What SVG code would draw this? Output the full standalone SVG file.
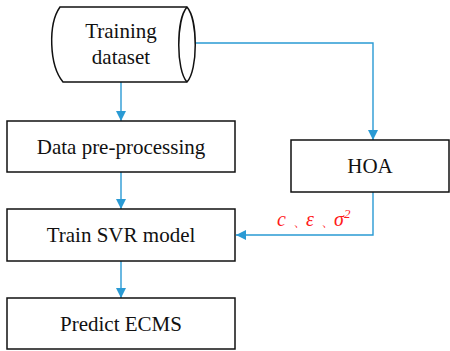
<svg xmlns="http://www.w3.org/2000/svg" width="450" height="351" viewBox="0 0 450 351">
  <style>
    .box { fill: #ffffff; stroke: #111111; stroke-width: 1.5; }
    .lbl { font-family: "Liberation Serif", "DejaVu Serif", serif; font-size: 21px; fill: #111111; text-anchor: middle; }
    .flow { fill: none; stroke: #2a9ad4; stroke-width: 1.4; }
    .param { font-family: "Liberation Serif", "DejaVu Serif", serif; font-size: 20px; fill: #ff1a1a; font-style: italic; }
  </style>
  <defs>
    <marker id="arrow" viewBox="0 0 10 10" refX="10" refY="5" markerWidth="10" markerHeight="10" markerUnits="userSpaceOnUse" orient="auto">
      <path d="M0,0 L10,5 L0,10 z" fill="#2a9ad4"/>
    </marker>
  </defs>
  <rect width="450" height="351" fill="#ffffff"/>

  <g id="connectors">
    <line class="flow" x1="121" y1="82" x2="121" y2="121" marker-end="url(#arrow)"/>
    <line class="flow" x1="121" y1="172" x2="121" y2="209" marker-end="url(#arrow)"/>
    <line class="flow" x1="121" y1="261" x2="121" y2="298" marker-end="url(#arrow)"/>
    <polyline class="flow" points="195,43 373,43 373,140" marker-end="url(#arrow)"/>
    <polyline class="flow" points="373,192 373,235 236,235" marker-end="url(#arrow)"/>
    <text class="param" y="226"><tspan x="277">c</tspan><tspan x="293" font-size="14" font-style="normal">、</tspan><tspan x="306">ε</tspan><tspan x="321" font-size="14" font-style="normal">、</tspan><tspan x="334">σ</tspan><tspan font-size="13" dy="-8">2</tspan></text>
  </g>

  <g id="training-dataset">
    <path class="box" d="M60,7 L187,7 C198,20 198,70 187,82 L63,82 C49,65 48,24 60,7 z"/>
    <path class="box" d="M187,7 C176,20 176,70 187,82"/>
    <text class="lbl" x="121" y="38">Training</text>
    <text class="lbl" x="121" y="64">dataset</text>
  </g>

  <g id="data-preprocessing">
    <rect class="box" x="7" y="121" width="228" height="51"/>
    <text class="lbl" x="121" y="154">Data pre-processing</text>
  </g>

  <g id="hoa">
    <rect class="box" x="291" y="140" width="158" height="52"/>
    <text class="lbl" x="370" y="173">HOA</text>
  </g>

  <g id="train-svr">
    <rect class="box" x="7" y="209" width="228" height="52"/>
    <text class="lbl" x="121" y="242">Train SVR model</text>
  </g>

  <g id="predict-ecms">
    <rect class="box" x="7" y="298" width="228" height="51"/>
    <text class="lbl" x="121" y="331">Predict ECMS</text>
  </g>
</svg>
